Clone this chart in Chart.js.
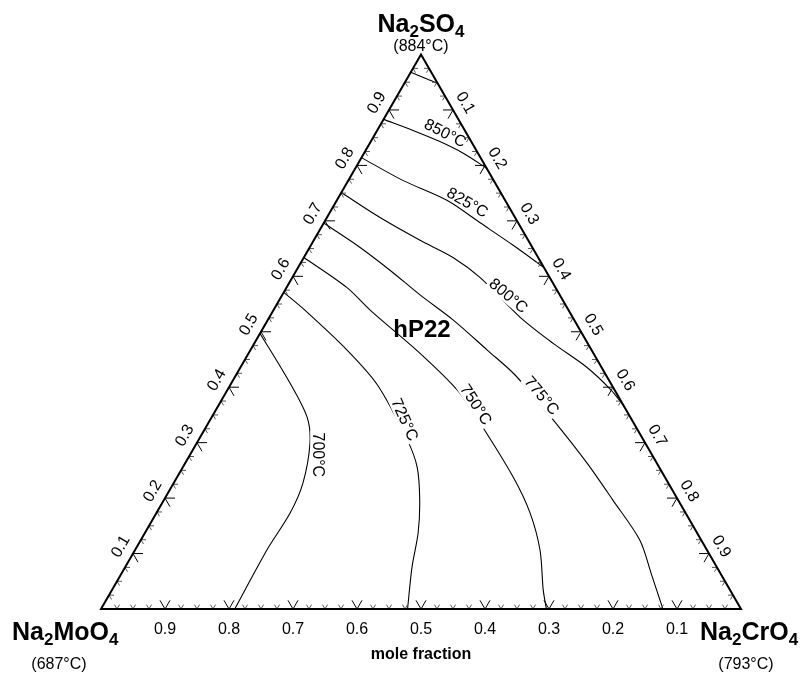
<!DOCTYPE html>
<html>
<head>
<meta charset="utf-8">
<script src="https://cdn.jsdelivr.net/npm/chart.js@4.4.1/dist/chart.umd.min.js"></script>
<style>
    body { margin: 0; background: #fff; }
    #wrap { width: 803px; height: 677px; position: relative; }
</style>
</head>
<body>
<div id="wrap"><canvas id="ternaryChart"></canvas></div>
<script>
// Isotherms, each point is [Na2SO4, Na2CrO4] mole fraction (Na2MoO4 = rest)
const iso875 = [[0.968, 0], [0.957, 0.028], [0.948, 0.052]];
const iso850 = [[0.883, 0], [0.863, 0.056], [0.843, 0.108], [0.822, 0.155], [0.795, 0.205]];
const iso825 = [[0.814, 0], [0.773, 0.085], [0.737, 0.172], [0.696, 0.245], [0.656, 0.316], [0.616, 0.384]];
const iso800 = [[0.751, 0], [0.706, 0.083], [0.665, 0.166], [0.634, 0.233], [0.598, 0.293], [0.526, 0.392],
                [0.479, 0.467], [0.436, 0.541], [0.396, 0.598], [0.366, 0.634]];
const iso775 = [[0.696, 0], [0.656, 0.072], [0.611, 0.146], [0.566, 0.216], [0.521, 0.290], [0.467, 0.370],
                [0.422, 0.436], [0.341, 0.536], [0.263, 0.628], [0.196, 0.702], [0.124, 0.780], [0.061, 0.830], [0, 0.878]];
const iso750 = [[0.634, 0], [0.580, 0.094], [0.539, 0.151], [0.461, 0.268], [0.395, 0.359], [0.335, 0.425],
                [0.238, 0.525], [0.173, 0.584], [0.106, 0.633], [0.034, 0.674], [0, 0.696]];
const iso725 = [[0.571, 0], [0.539, 0.049], [0.467, 0.151], [0.404, 0.230], [0.305, 0.326], [0.256, 0.366],
                [0.196, 0.400], [0.137, 0.427], [0.076, 0.448], [0, 0.479]];
const iso700 = [[0.497, 0], [0.407, 0.092], [0.346, 0.149], [0.299, 0.177], [0.227, 0.202], [0.173, 0.209],
                [0.106, 0.206], [0, 0.209]];

const isotherms = [iso875, iso850, iso825, iso800, iso775, iso750, iso725, iso700];
const isoNames = ['', '850°C', '825°C', '800°C', '775°C', '750°C', '725°C', '700°C'];

// where each isotherm label sits ([Na2SO4, Na2CrO4]), its angle, and whether it cuts the line
const labelAt = [null, [0.857, 0.109], [0.732, 0.206], [0.564, 0.354], [0.384, 0.496], [0.368, 0.401], [0.341, 0.303], [0.278, 0.199]];
const labelAngle = [0, 27, 30, 40, 50, 57, 66, 90];
const labelCuts = [false, false, false, true, true, true, true, true];

const tickValues = [0.1, 0.2, 0.3, 0.4, 0.5, 0.6, 0.7, 0.8, 0.9];

const H = Math.sqrt(3) / 2;
const toXY = ([s, c]) => ({ x: c + s / 2, y: s * H });

const FONT = '"Liberation Sans", Arial, sans-serif';

function rotText(ctx, txt, cx, cy, deg, cut) {
    ctx.save();
    ctx.translate(cx, cy);
    ctx.rotate(deg * Math.PI / 180);
    if (cut) {
        const w = ctx.measureText(txt).width;
        ctx.fillStyle = '#fff';
        ctx.fillRect(-w / 2 - 2, -7, w + 4, 14);
    }
    ctx.fillStyle = '#000';
    ctx.textAlign = 'center';
    ctx.textBaseline = 'middle';
    ctx.fillText(txt, 0, 0);
    ctx.restore();
}

function formula(ctx, parts, x0, base, align) {
    const big = 'bold 25px ' + FONT, small = 'bold 17px ' + FONT;
    let w = 0;
    parts.forEach(([t, sub]) => { ctx.font = sub ? small : big; w += ctx.measureText(t).width; });
    let x = align === 'center' ? x0 - w / 2 : x0;
    ctx.textAlign = 'left';
    ctx.textBaseline = 'alphabetic';
    ctx.fillStyle = '#000';
    parts.forEach(([t, sub]) => {
        ctx.font = sub ? small : big;
        ctx.fillText(t, x, sub ? base + 5 : base);
        x += ctx.measureText(t).width;
    });
}

const ternaryFrame = {
    id: 'ternaryFrame',
    afterDatasetsDraw(chart) {
        const { ctx, scales: { x, y } } = chart;
        const px = (s, c) => [x.getPixelForValue(c + s / 2), y.getPixelForValue(s * H)];

        // isotherm labels
        ctx.font = '16px ' + FONT;
        isoNames.forEach((name, i) => {
            if (!name) return;
            const [lx, ly] = px(labelAt[i][0], labelAt[i][1]);
            rotText(ctx, name, lx, ly, labelAngle[i], labelCuts[i]);
        });

        // ticks: bottom (Na2MoO4), left (Na2SO4), right (Na2CrO4)
        const seg = (p, dx, dy, len) => {
            ctx.moveTo(p[0], p[1]);
            ctx.lineTo(p[0] + dx * len, p[1] + dy * len);
        };
        for (let i = 1; i < 40; i++) {
            const v = i / 40;
            const major = i % 4 === 0;
            const len = major ? 10 : 5;
            ctx.beginPath();
            ctx.strokeStyle = major ? '#000' : '#555';
            ctx.lineWidth = 1;
            const b = px(0, v);
            seg(b, -0.5, -H, len); seg(b, 0.5, -H, len);
            const l = px(v, 0);
            seg(l, 1, 0, len); seg(l, 0.5, H, len);
            const r = px(1 - v, v);
            seg(r, -1, 0, len); seg(r, -0.5, H, len);
            ctx.stroke();
        }

        // triangle
        const A = px(0, 0), B = px(0, 1), C = px(1, 0);
        ctx.beginPath();
        ctx.moveTo(A[0], A[1]); ctx.lineTo(B[0], B[1]); ctx.lineTo(C[0], C[1]); ctx.closePath();
        ctx.strokeStyle = '#000';
        ctx.lineWidth = 2;
        ctx.lineJoin = 'miter';
        ctx.stroke();

        // tick labels
        ctx.font = '16px ' + FONT;
        tickValues.forEach(v => {
            const txt = v.toFixed(1);
            const b = px(0, 1 - v);
            rotText(ctx, txt, b[0], b[1] + 20.5, 0, false);
            const l = px(v, 0);
            rotText(ctx, txt, l[0] - 14 * H, l[1] - 7, -60, false);
            const r = px(1 - v, v);
            rotText(ctx, txt, r[0] + 14 * H, r[1] - 7, 60, false);
        });

        // corner names and melting points
        formula(ctx, [['Na', 0], ['2', 1], ['SO', 0], ['4', 1]], C[0], 32, 'center');
        formula(ctx, [['Na', 0], ['2', 1], ['MoO', 0], ['4', 1]], 12, 640, 'left');
        formula(ctx, [['Na', 0], ['2', 1], ['CrO', 0], ['4', 1]], 700, 640, 'left');
        ctx.font = '16px ' + FONT;
        rotText(ctx, '(884°C)', C[0], 46.5, 0, false);
        rotText(ctx, '(687°C)', 59, 665, 0, false);
        rotText(ctx, '(793°C)', 746, 665, 0, false);

        ctx.font = 'bold 16px ' + FONT;
        rotText(ctx, 'mole fraction', 421, 655, 0, false);
        ctx.font = 'bold 24px ' + FONT;
        rotText(ctx, 'hP22', 422, 330, 0, false);
    }
};

new Chart(document.getElementById('ternaryChart').getContext('2d'), {
    type: 'scatter',
    data: {
        datasets: isotherms.map((pts, i) => ({
            label: isoNames[i] || '875°C',
            data: pts.map(toXY),
            showLine: true,
            borderColor: '#000',
            borderWidth: 1.1,
            pointRadius: 0,
            tension: 0.3,
            fill: false
        }))
    },
    options: {
        responsive: true,
        maintainAspectRatio: false,
        animation: false,
        events: [],
        layout: { padding: { left: 101, right: 62, top: 54.5, bottom: 68 } },
        plugins: {
            legend: { display: false },
            tooltip: { enabled: false }
        },
        scales: {
            x: { type: 'linear', min: 0, max: 1, display: false },
            y: { type: 'linear', min: 0, max: H, display: false }
        }
    },
    plugins: [ternaryFrame]
});
</script>
</body>
</html>
